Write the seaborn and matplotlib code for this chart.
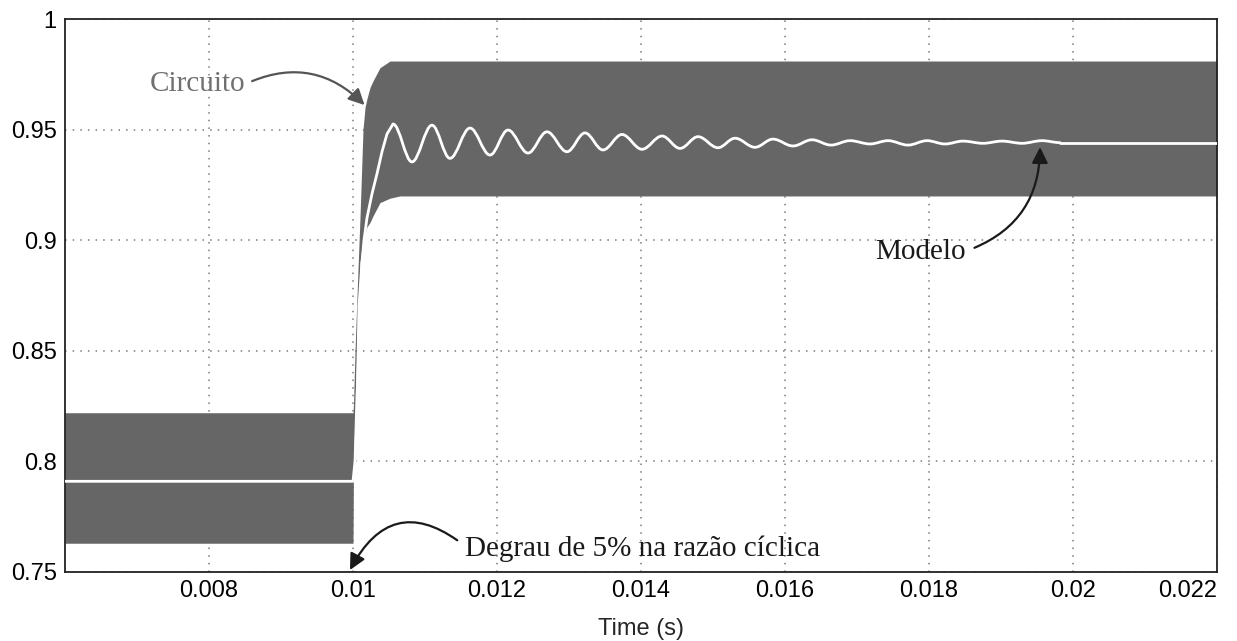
import numpy as np
import pandas as pd
import matplotlib
matplotlib.use("Agg")
import matplotlib.pyplot as plt
from matplotlib.path import Path
from matplotlib.patches import PathPatch
import seaborn as sns

# ---------------- data ----------------
# Switching-ripple envelope of the circuit output (gray band)
band_t = [0.006, 0.010000, 0.010007, 0.010028, 0.010056, 0.010097, 0.010139,
          0.010167, 0.010194, 0.010236, 0.010278, 0.010375, 0.010514, 0.010653, 0.022]
band_upper = [0.822, 0.822, 0.826, 0.850, 0.875, 0.910, 0.950,
              0.960, 0.964, 0.969, 0.972, 0.978, 0.981, 0.981, 0.981]
band_lower = [0.763, 0.763, 0.800, 0.820, 0.870, 0.890, 0.900,
              0.903, 0.906, 0.908, 0.911, 0.917, 0.919, 0.920, 0.920]

# Averaged model response (white line): flat part and rise up to first peak
rise_t = [0.006, 0.010000, 0.010028, 0.010056, 0.010097, 0.010125, 0.010153,
          0.010194, 0.010264, 0.010333, 0.010403, 0.010472, 0.010556]
rise_v = [0.791, 0.791, 0.800, 0.830, 0.864, 0.890, 0.900,
          0.910, 0.921, 0.930, 0.940, 0.948, 0.9525]

# Damped oscillation: successive peaks / troughs of the model
osc_t = [0.010556, 0.010819, 0.011097, 0.011347, 0.011625, 0.011903, 0.012153,
         0.012431, 0.012694, 0.012972, 0.013222, 0.013472, 0.013736,
         0.014014, 0.014292, 0.014542, 0.014792, 0.015069, 0.015306,
         0.015583, 0.015833, 0.016111, 0.016375, 0.016639, 0.016903,
         0.017181, 0.017431, 0.017708, 0.017972, 0.018222, 0.018472,
         0.018750, 0.019014, 0.019292, 0.019570, 0.019820]
osc_v = [0.9525, 0.9354, 0.9520, 0.9370, 0.9507, 0.9385, 0.9498,
         0.9394, 0.9490, 0.9400, 0.9485, 0.9408, 0.9478,
         0.9411, 0.9471, 0.9415, 0.9468, 0.9418, 0.9461,
         0.9420, 0.9457, 0.9426, 0.9454, 0.9430, 0.9450,
         0.9435, 0.9450, 0.9430, 0.9450, 0.9435, 0.9448,
         0.9438, 0.9448, 0.9438, 0.9450, 0.9441]

# Settled value
tail_t = [0.019820, 0.022]
tail_v = [0.9441, 0.9441]

x_ticks = [0.008, 0.010, 0.012, 0.014, 0.016, 0.018, 0.020, 0.022]
x_labels = ["0.008", "0.01", "0.012", "0.014", "0.016", "0.018", "0.02", "0.022"]
y_ticks = [0.75, 0.80, 0.85, 0.90, 0.95, 1.00]
y_labels = ["0.75", "0.8", "0.85", "0.9", "0.95", "1"]

# ---------------- plot ----------------
sns.set_theme(style="white")
plt.rcParams["font.family"] = ["Liberation Sans", "DejaVu Sans"]

fig = plt.figure(figsize=(12.37, 6.41), dpi=100)
ax = fig.add_axes([65 / 1237, 1 - 572 / 641, (1217 - 65) / 1237, (572 - 19) / 641])

ax.set_axisbelow(True)
ax.grid(True, color="#7a7a7a", linestyle=(0, (1, 4)), linewidth=1.1)

ax.fill_between(band_t, band_lower, band_upper, color="#666666", linewidth=0, zorder=2)

line_kw = dict(color="white", linewidth=2.0, sort=False, estimator=None, zorder=3)
sns.lineplot(x=rise_t, y=rise_v, ax=ax, **line_kw)
sns.lineplot(x=tail_t, y=tail_v, ax=ax, **line_kw)

# smooth drawing of the oscillation through the read extremes
verts = [(osc_t[0], osc_v[0])]
codes = [Path.MOVETO]
for i in range(len(osc_t) - 1):
    ta, va, tb, vb = osc_t[i], osc_v[i], osc_t[i + 1], osc_v[i + 1]
    d = (tb - ta) * 0.36
    verts += [(ta + d, va), (tb - d, vb), (tb, vb)]
    codes += [Path.CURVE4] * 3
ax.add_patch(PathPatch(Path(verts, codes), fill=False, edgecolor="white",
                       linewidth=2.0, capstyle="round", joinstyle="round", zorder=3))

ax.set_xlim(0.006, 0.022)
ax.set_ylim(0.75, 1.0)
ax.set_xticks(x_ticks)
ax.set_xticklabels(x_labels)
ax.set_yticks(y_ticks)
ax.set_yticklabels(y_labels)
ax.tick_params(axis="both", length=0, labelsize=17, colors="black", pad=6)
ax.get_xticklabels()[-1].set_horizontalalignment("right")
ax.set_xlabel("Time (s)", fontsize=17, labelpad=11)
ax.set_ylabel("")

for s in ax.spines.values():
    s.set_visible(True)
    s.set_color("#222222")
    s.set_linewidth(1.3)

serif = ["Liberation Serif", "DejaVu Serif"]

ax.annotate("Circuito", xy=(0.010160, 0.9611), xytext=(0.00850, 0.9705),
            fontsize=21, family=serif, color="#707070", ha="right", va="center",
            arrowprops=dict(arrowstyle="-|>", color="#555555", lw=1.6,
                            mutation_scale=24, shrinkA=3, shrinkB=0,
                            relpos=(1.0, 0.5),
                            connectionstyle="arc3,rad=-0.35"))

ax.annotate("Modelo", xy=(0.019542, 0.9421), xytext=(0.018514, 0.8945),
            fontsize=21, family=serif, color="#1a1a1a", ha="right", va="center",
            arrowprops=dict(arrowstyle="-|>", color="#1a1a1a", lw=1.6,
                            mutation_scale=24, shrinkA=4, shrinkB=0,
                            relpos=(1.0, 0.55),
                            connectionstyle="arc3,rad=0.35"))

ax.annotate("Degrau de 5% na razão cíclica", xy=(0.009958, 0.7509),
            xytext=(0.011556, 0.7605),
            fontsize=21, family=serif, color="#1a1a1a", ha="left", va="center",
            arrowprops=dict(arrowstyle="-|>", color="#1a1a1a", lw=1.6,
                            mutation_scale=24, shrinkA=4, shrinkB=0,
                            relpos=(0.0, 0.6),
                            connectionstyle="arc3,rad=0.6"))

fig.savefig("out.png", dpi=100)
